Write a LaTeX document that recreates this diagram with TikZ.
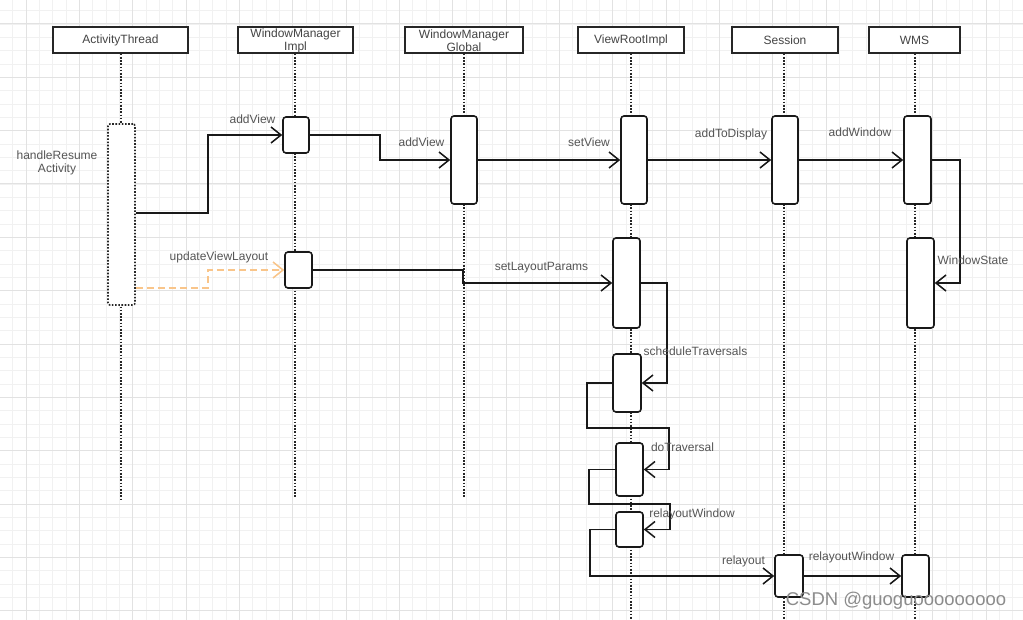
\documentclass[tikz,border=0pt]{standalone}
\usepackage{fontspec}
\setmainfont{Liberation Sans}
\usetikzlibrary{arrows.meta}
\definecolor{gminor}{HTML}{F1F1F1}
\definecolor{gmajor}{HTML}{E2E2E2}
\definecolor{txtc}{HTML}{555555}
\definecolor{hdrc}{HTML}{444444}
\definecolor{orng}{HTML}{F9C58A}
\definecolor{wmk}{HTML}{8C8C8C}
\begin{document}
\begin{tikzpicture}[x=1pt,y=-1pt,
  gridminor/.style={gminor,line width=0.8pt},
  gridmajor/.style={gmajor,line width=1pt},
  header/.style={draw=black!85,line width=1.5pt,fill=white,inner sep=0pt},
  headtext/.style={text=hdrc,font=\fontsize{12}{13}\selectfont,align=center,inner sep=0pt},
  lifeline/.style={black!85,line width=1.6pt,dash pattern=on 1.6pt off 1.6pt},
  actbox/.style={draw=black!90,line width=1.6pt,fill=white,rounded corners=3pt,inner sep=0pt},
  dotbox/.style={draw=black!85,line width=1.6pt,dash pattern=on 1.6pt off 1.6pt,fill=white,rounded corners=2pt,inner sep=0pt},
  msg/.style={black!90,line width=1.5pt,-{Straight Barb[length=10pt,width=16pt]}},
  dmsg/.style={orng,line width=1.5pt,dash pattern=on 7pt off 4pt,-{Straight Barb[length=10pt,width=16pt]}},
  lbl/.style={text=txtc,font=\fontsize{12}{13}\selectfont,inner sep=0pt}
]
\useasboundingbox (0,0) rectangle (1023,620);
\fill[white] (0,0) rectangle (1023,620);
% grid
\foreach \i in {0,...,77} {\draw[gridminor] ({-0.67+13.333*\i},0) -- ++(0,620);}
\foreach \i in {0,...,47} {\draw[gridminor] (0,{-2.67+13.333*\i}) -- ++(1023,0);}
\foreach \i in {0,...,20} {\draw[gridmajor] ({-27.33+53.333*\i},0) -- ++(0,620);}
\foreach \i in {0,...,13} {\draw[gridmajor] (0,{-29.33+53.333*\i}) -- ++(1023,0);}

% headers
\node[header,minimum width=135pt,minimum height=26pt] (hAT) at (120.5,40) {};
\node[header,minimum width=115pt,minimum height=26pt] (hWMI) at (295.5,40) {};
\node[header,minimum width=118pt,minimum height=26pt] (hWMG) at (464,40) {};
\node[header,minimum width=106pt,minimum height=26pt] (hVRI) at (631,40) {};
\node[header,minimum width=106pt,minimum height=26pt] (hSes) at (785,40) {};
\node[header,minimum width=91pt,minimum height=26pt] (hWMS) at (914.5,40) {};

% lifelines
\coordinate (eAT) at (121,499);
\coordinate (eWMI) at (295,497);
\coordinate (eWMG) at (464,497);
\coordinate (eVRI) at (631,620);
\coordinate (eSes) at (784,620);
\coordinate (eWMS) at (915,620);
\draw[lifeline] (hAT.south -| eAT) -- (eAT);
\draw[lifeline] (hWMI.south -| eWMI) -- (eWMI);
\draw[lifeline] (hWMG.south -| eWMG) -- (eWMG);
\draw[lifeline] (hVRI.south -| eVRI) -- (eVRI);
\draw[lifeline] (hSes.south -| eSes) -- (eSes);
\draw[lifeline] (hWMS.south -| eWMS) -- (eWMS);

% header texts
\node[headtext] (tAT) at (hAT) {ActivityThread};
\node[headtext] (tWMI) at (295.5,40.5) {WindowManager\\Impl};
\node[headtext] (tWMG) at (464,40.5) {WindowManager\\Global};
\node[headtext] (tVRI) at (hVRI) {ViewRootImpl};
\node[headtext] (tSes) at (hSes) {Session};
\node[headtext] (tWMS) at (hWMS) {WMS};

% activation boxes
\node[dotbox,minimum width=27pt,minimum height=181pt] (at0) at (121.5,214.5) {};
\node[actbox,minimum width=26pt,minimum height=36pt] (wmi1) at (296,135) {};
\node[actbox,minimum width=26pt,minimum height=88pt] (wmg1) at (464,160) {};
\node[actbox,minimum width=26pt,minimum height=88pt] (vri1) at (634,160) {};
\node[actbox,minimum width=26pt,minimum height=88pt] (ses1) at (785,160) {};
\node[actbox,minimum width=27pt,minimum height=88pt] (wms1) at (917.5,160) {};
\node[actbox,minimum width=27pt,minimum height=36pt] (wmi2) at (298.5,270) {};
\node[actbox,minimum width=27pt,minimum height=90pt] (vri2) at (626.5,283) {};
\node[actbox,minimum width=27pt,minimum height=90pt] (wms2) at (920.5,283) {};
\node[actbox,minimum width=28pt,minimum height=58pt] (vri3) at (627,383) {};
\node[actbox,minimum width=27pt,minimum height=53pt] (vri4) at (629.5,469.5) {};
\node[actbox,minimum width=27pt,minimum height=35pt] (vri5) at (629.5,529.5) {};
\node[actbox,minimum width=28pt,minimum height=42pt] (ses2) at (789,576) {};
\node[actbox,minimum width=27pt,minimum height=42pt] (wms3) at (915.5,576) {};

% messages
\draw[msg] (at0.east |- 0,213) -- (208,213) |- (wmi1.west);
\draw[msg] (wmi1.east) -- (380,135) |- (wmg1.west);
\draw[msg] (wmg1.east) -- (vri1.west);
\draw[msg] (vri1.east) -- (ses1.west);
\draw[msg] (ses1.east) -- (wms1.west);
\draw[msg] (wms1.east) -- (960,160) |- (wms2.east);
\draw[dmsg] (at0.east |- 0,288) -- (208,288) |- (wmi2.west);
\draw[msg] (wmi2.east) -- (463,270) |- (vri2.west);
\draw[msg] (vri2.east) -- (667,283) |- (vri3.east);
\draw[msg] (vri3.west) -- (587,383) -- (587,428) -- (669,428) |- (vri4.east);
\draw[msg] (vri4.west) -- (589,469.5) -- (589,504) -- (670,504) |- (vri5.east);
\draw[msg] (vri5.west) -- (590,529.5) |- (ses2.west);
\draw[msg] (ses2.east) -- (wms3.west);

% labels
\node[lbl,align=center] (lHR) at (57,163) {handleResume\\Activity};
\node[lbl] (l1) at (252.5,119) {addView};
\node[lbl] (l2) at (421.5,142) {addView};
\node[lbl] (l3) at (589,142) {setView};
\node[lbl] (l4) at (731,134) {addToDisplay};
\node[lbl] (l5) at (860,132) {addWindow};
\node[lbl] (l6) at (973,260) {WindowState};
\node[lbl] (l7) at (219,257) {updateViewLayout};
\node[lbl] (l8) at (541.5,268) {setLayoutParams};
\node[lbl] (l9) at (695.5,351) {scheduleTraversals};
\node[lbl] (l10) at (682.5,447) {doTraversal};
\node[lbl] (l11) at (692,514) {relayoutWindow};
\node[lbl] (l12) at (743.5,561) {relayout};
\node[lbl] (l13) at (851.5,557) {relayoutWindow};

% watermark
\node[text=wmk,font=\fontsize{18.5}{20}\selectfont,inner sep=0pt] (wm) at (896,601) {CSDN @guoguooooooooo};
\end{tikzpicture}
\end{document}
